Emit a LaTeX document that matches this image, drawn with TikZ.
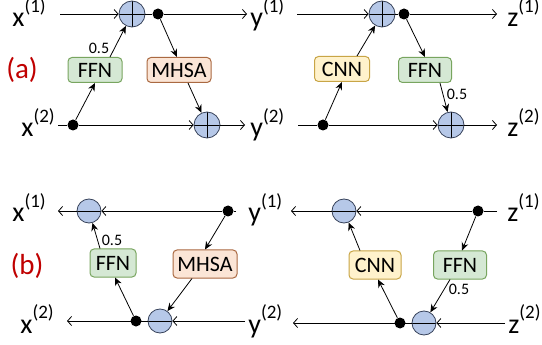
\documentclass[tikz,border=0pt]{standalone}
\usepackage{fontspec}
\setmainfont{Carlito}
\usetikzlibrary{arrows.meta,calc}
\definecolor{circf}{RGB}{182,200,232}
\definecolor{circd}{RGB}{55,66,90}
\definecolor{ffnf}{RGB}{213,232,212}
\definecolor{ffnd}{RGB}{120,165,95}
\definecolor{mhsaf}{RGB}{251,229,214}
\definecolor{mhsad}{RGB}{170,105,65}
\definecolor{cnnf}{RGB}{255,242,204}
\definecolor{cnnd}{RGB}{200,165,70}
\definecolor{labred}{RGB}{192,0,0}
\newcommand\vl[2]{#1\raisebox{0.5em}{\fontsize{19}{19}\selectfont(#2)}}
\begin{document}
\begin{tikzpicture}[x=1pt,y=-1pt,line width=0.8pt,
  addc/.style={circle,draw=circd,fill=circf,minimum size=26pt,inner sep=0pt,
    path picture={\draw[black,line width=0.8pt] (path picture bounding box.north) -- (path picture bounding box.south)
      (path picture bounding box.west) -- (path picture bounding box.east);}},
  subc/.style={circle,draw=circd,fill=circf,minimum size=24pt,inner sep=0pt,
    path picture={\draw[black,line width=0.8pt] (path picture bounding box.west) -- (path picture bounding box.east);}},
  dotn/.style={circle,fill=black,minimum size=11pt,inner sep=0pt},
  box/.style={rounded corners=4pt,draw,line width=1pt,minimum height=25pt,inner sep=0pt,font=\fontsize{22}{22}\selectfont},
  ffn/.style={box,fill=ffnf,draw=ffnd},
  mhsa/.style={box,fill=mhsaf,draw=mhsad},
  cnn/.style={box,fill=cnnf,draw=cnnd},
  lab/.style={font=\fontsize{28}{28}\selectfont,anchor=base west,inner sep=0pt},
  wt/.style={font=\fontsize{16}{16}\selectfont,inner sep=0pt},
  plab/.style={font=\fontsize{29}{29}\selectfont,text=labred,inner sep=0pt},
  harr/.style={-{Straight Barb[length=4pt,width=9pt]}},
  darr/.style={-{Stealth[length=8pt,width=7pt]}}]
\fill[white] (0,0) rectangle (542,345);
\useasboundingbox (0,0) rectangle (542,345);
% ---------- panel (a), left ----------
\node[lab] (x1a) at (12,27) {\vl{x}{1}};
\coordinate (a1s) at (60,14);
\node[addc] (ca1) at (132,14) {};
\node[dotn] (da1) at (158,14) {};
\coordinate (a1e) at (247,14);
\node[lab] (y1a) at (250,27) {\vl{y}{1}};
\node[ffn,minimum width=54pt] (fa) at (95,70) {FFN};
\node[mhsa,minimum width=64pt] (ma) at (179,70) {MHSA};
\node[lab] (x2a) at (21,137) {\vl{x}{2}};
\coordinate (a2s) at (58,125);
\node[dotn] (db1) at (73,125) {};
\node[addc] (cb1) at (207,125) {};
\coordinate (a2e) at (245,125);
\node[lab] (y2a) at (250,137) {\vl{y}{2}};
\node[plab] (pa) at (22,70) {(a)};
\node[wt] (wa) at (99,48) {0.5};
\draw[harr] (a1s) -- (ca1);
\draw (ca1) -- (da1);
\draw[harr] (da1) -- (a1e);
\draw (a2s) -- (db1);
\draw[harr] (db1) -- (cb1);
\draw[harr] (cb1) -- (a2e);
\draw[darr] (db1) -- (fa.south);
\draw[darr] ([xshift=15pt]fa.north) -- (ca1);
\draw[darr] (da1) -- ([xshift=-2pt]ma.north);
\draw[darr] ([xshift=9pt]ma.south) -- (cb1);
% ---------- panel (a), right ----------
\coordinate (a3s) at (297,14);
\node[addc] (ca2) at (382,14) {};
\node[dotn] (da2) at (404,14) {};
\coordinate (a3e) at (497,14);
\node[lab] (z1a) at (507,27) {\vl{z}{1}};
\node[cnn,minimum width=55pt] (cn) at (342,69) {CNN};
\node[ffn,minimum width=53pt] (fb) at (425,70) {FFN};
\coordinate (a4s) at (298,125);
\node[dotn] (db2) at (323,125) {};
\node[addc] (cb2) at (451,125) {};
\coordinate (a4e) at (497,125);
\node[lab] (z2a) at (507,137) {\vl{z}{2}};
\node[wt] (wb) at (457,94) {0.5};
\draw[harr] (a3s) -- (ca2);
\draw (ca2) -- (da2);
\draw[harr] (da2) -- (a3e);
\draw (a4s) -- (db2);
\draw[harr] (db2) -- (cb2);
\draw[harr] (cb2) -- (a4e);
\draw[darr] (db2) -- (cn.south);
\draw[darr] ([xshift=15pt]cn.north) -- (ca2);
\draw[darr] (da2) -- (fb.north);
\draw[darr] ([xshift=15pt]fb.south) -- (cb2);
% ---------- panel (b), left ----------
\node[lab] (x1b) at (12,222) {\vl{x}{1}};
\coordinate (b1e) at (58,211);
\node[subc] (cc1) at (89,211) {};
\node[dotn] (dc1) at (228,211) {};
\coordinate (b1s) at (236,211);
\node[lab] (y1b) at (248,222) {\vl{y}{1}};
\node[ffn,minimum width=46pt,minimum height=28pt] (fc) at (113,263) {FFN};
\node[mhsa,minimum width=64pt,minimum height=28pt] (mb) at (205,264) {MHSA};
\node[wt] (wc) at (112,240) {0.5};
\node[lab] (x2b) at (20,333) {\vl{x}{2}};
\coordinate (b2e) at (67,321);
\node[dotn] (dd1) at (136,321) {};
\node[subc] (cd1) at (160,321) {};
\coordinate (b2s) at (245,321);
\node[lab] (y2b) at (248,333) {\vl{y}{2}};
\node[plab] (pb) at (27,266) {(b)};
\draw[harr] (cc1) -- (b1e);
\draw[harr] (dc1) -- (cc1);
\draw (b1s) -- (dc1);
\draw[harr] (cd1) -- (b2e);
\draw[harr] (b2s) -- (cd1);
\draw[darr] (dd1) -- ([xshift=2pt]fc.south);
\draw[darr] ([xshift=-13pt]fc.north) -- (cc1);
\draw[darr] (dc1) -- (mb.north);
\draw[darr] ([xshift=-13pt]mb.south) -- (cd1);
% ---------- panel (b), right ----------
\coordinate (b3e) at (291,211);
\node[subc] (cc2) at (344,211) {};
\node[dotn] (dc2) at (478,211) {};
\coordinate (b3s) at (497,211);
\node[lab] (z1b) at (507,222) {\vl{z}{1}};
\node[cnn,minimum width=52pt,minimum height=28pt] (cn2) at (375,265) {CNN};
\node[ffn,minimum width=53pt,minimum height=28pt] (fd) at (460,265) {FFN};
\node[wt] (wd) at (459,289) {0.5};
\coordinate (b4e) at (293,323);
\node[dotn] (dd2) at (400,323) {};
\node[subc] (cd2) at (424,323) {};
\coordinate (b4s) at (505,323);
\node[lab] (z2b) at (508,333) {\vl{z}{2}};
\draw[harr] (cc2) -- (b3e);
\draw[harr] (dc2) -- (cc2);
\draw (b3s) -- (dc2);
\draw[harr] (cd2) -- (b4e);
\draw[harr] (b4s) -- (cd2);
\draw[darr] (dd2) -- ([xshift=3pt]cn2.south);
\draw[darr] ([xshift=-15pt]cn2.north) -- (cc2);
\draw[darr] (dc2) -- ([xshift=2pt]fd.north);
\draw[darr] ([xshift=-10pt]fd.south) -- (cd2);
\end{tikzpicture}
\end{document}
